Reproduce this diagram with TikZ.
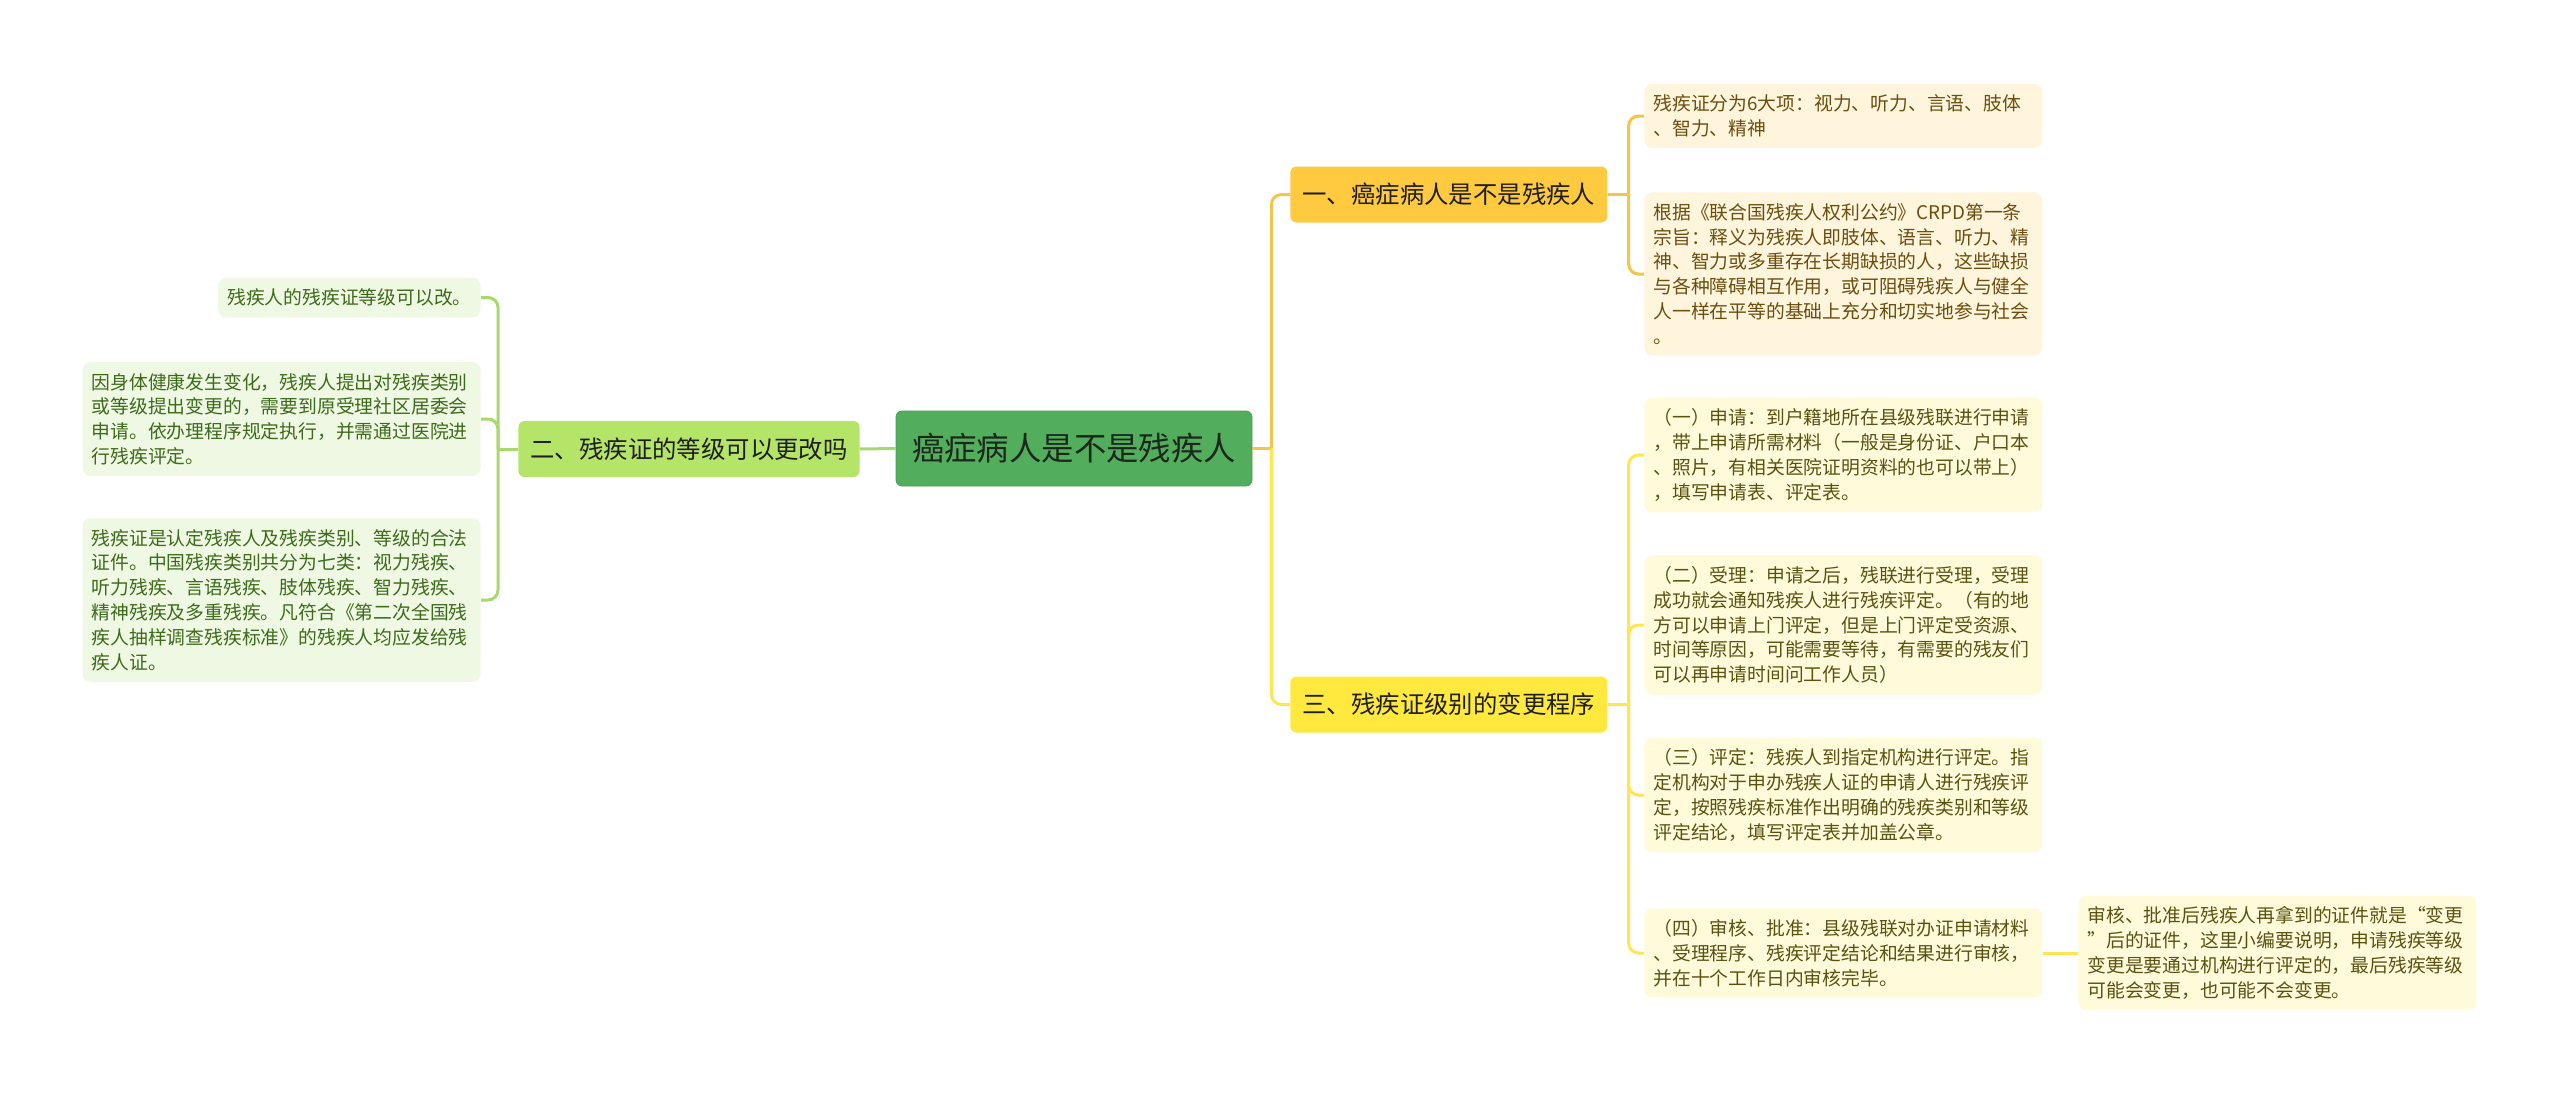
\documentclass[tikz,border=0pt]{standalone}
\usepackage{fontspec}
\setmainfont{Noto Sans CJK SC}
\usepackage{tikz}
\usetikzlibrary{positioning}
\definecolor{rootgreen}{RGB}{82,174,92}
\definecolor{rootedge}{RGB}{70,160,80}
\definecolor{roottext}{RGB}{28,40,28}
\definecolor{twogreen}{RGB}{180,228,104}
\definecolor{oneorange}{RGB}{255,201,64}
\definecolor{threeyellow}{RGB}{255,233,62}
\definecolor{darktext}{RGB}{30,30,30}
\definecolor{glink}{RGB}{168,216,110}
\definecolor{olink}{RGB}{243,197,74}
\definecolor{ylink}{RGB}{255,230,80}
\definecolor{gleaf}{RGB}{238,248,226}
\definecolor{gtext}{RGB}{62,106,28}
\definecolor{oleaf}{RGB}{255,245,220}
\definecolor{otext}{RGB}{106,78,16}
\definecolor{yleaf}{RGB}{255,251,218}
\definecolor{ytext}{RGB}{90,82,18}
\tikzset{
  rootbox/.style={rectangle,rounded corners=3pt,fill=rootgreen,draw=rootedge,text=roottext,inner xsep=8pt,minimum height=37.5pt,font=\fontsize{16.2}{19}\selectfont},
  branch/.style={rectangle,rounded corners=3pt,inner xsep=6pt,minimum height=28pt,text=darktext,font=\fontsize{12.2}{14}\selectfont},
  leaf/.style={rectangle,rounded corners=4pt,align=left,inner xsep=4.5pt,inner ysep=5.5pt,font=\fontsize{9.4}{12.4}\selectfont},
  wideleaf/.style={leaf,text width=190pt},
  link/.style={line width=1.5pt,rounded corners=5pt}
}

\begin{document}
\begin{tikzpicture}[x=0.5pt,y=-0.5pt]
  \useasboundingbox (0,0) rectangle (2560,1093);

  % centre and main branches
  \node[rootbox] (root) at (1074,448.5) {癌症病人是不是残疾人};
  \node[branch,fill=twogreen,anchor=east] (two) at (860,449) {二、残疾证的等级可以更改吗};
  \node[branch,fill=oneorange,anchor=west] (one) at (1290,194.5) {一、癌症病人是不是残疾人};
  \node[branch,fill=threeyellow,anchor=west] (three) at (1290,704.5) {三、残疾证级别的变更程序};

  % leaves of branch one
  \node[wideleaf,fill=oleaf,text=otext,anchor=west] (a1) at (1644,116) {残疾证分为6大项：视力、听力、言语、肢体\\、智力、精神};
  \node[wideleaf,fill=oleaf,text=otext,anchor=west] (a2) at (1644,274) {根据《联合国残疾人权利公约》CRPD第一条\\宗旨：释义为残疾人即肢体、语言、听力、精\\神、智力或多重存在长期缺损的人，这些缺损\\与各种障碍相互作用，或可阻碍残疾人与健全\\人一样在平等的基础上充分和切实地参与社会\\。};

  % leaves of branch three
  \node[wideleaf,fill=yleaf,text=ytext,anchor=west] (c1) at (1644,455) {（一）申请：到户籍地所在县级残联进行申请\\，带上申请所需材料（一般是身份证、户口本\\、照片，有相关医院证明资料的也可以带上）\\，填写申请表、评定表。};
  \node[wideleaf,fill=yleaf,text=ytext,anchor=west] (c2) at (1644,625) {（二）受理：申请之后，残联进行受理，受理\\成功就会通知残疾人进行残疾评定。（有的地\\方可以申请上门评定，但是上门评定受资源、\\时间等原因，可能需要等待，有需要的残友们\\可以再申请时间问工作人员）};
  \node[wideleaf,fill=yleaf,text=ytext,anchor=west] (c3) at (1644,795) {（三）评定：残疾人到指定机构进行评定。指\\定机构对于申办残疾人证的申请人进行残疾评\\定，按照残疾标准作出明确的残疾类别和等级\\评定结论，填写评定表并加盖公章。};
  \node[wideleaf,fill=yleaf,text=ytext,anchor=west] (c4) at (1644,953) {（四）审核、批准：县级残联对办证申请材料\\、受理程序、残疾评定结论和结果进行审核，\\并在十个工作日内审核完毕。};
  \node[wideleaf,fill=yleaf,text=ytext,anchor=west] (d1) at (2078,953) {审核、批准后残疾人再拿到的证件就是“变更\\”后的证件，这里小编要说明，申请残疾等级\\变更是要通过机构进行评定的，最后残疾等级\\可能会变更，也可能不会变更。};

  % leaves of branch two
  \node[leaf,fill=gleaf,text=gtext,anchor=east] (l1) at (481,297.5) {残疾人的残疾证等级可以改。};
  \node[wideleaf,fill=gleaf,text=gtext,anchor=east] (l2) at (481,419) {因身体健康发生变化，残疾人提出对残疾类别\\或等级提出变更的，需要到原受理社区居委会\\申请。依办理程序规定执行，并需通过医院进\\行残疾评定。};
  \node[wideleaf,fill=gleaf,text=gtext,anchor=east] (l3) at (481,600) {残疾证是认定残疾人及残疾类别、等级的合法\\证件。中国残疾类别共分为七类：视力残疾、\\听力残疾、言语残疾、肢体残疾、智力残疾、\\精神残疾及多重残疾。凡符合《第二次全国残\\疾人抽样调查残疾标准》的残疾人均应发给残\\疾人证。};

  % connectors
  \draw[link,draw=glink] (root.west) -- (two.east);
  \draw[link,draw=olink] (root.east) -- ++(19,0);
  \draw[link,draw=olink] (root.east) ++(19,0) |- (one.west);
  \draw[link,draw=ylink] (root.east) ++(19,0) |- (three.west);
  \draw[link,draw=olink] (one.east) -- ++(21,0);
  \foreach \n in {a1,a2}
    \draw[link,draw=olink] (one.east) ++(21,0) |- (\n.west);
  \draw[link,draw=ylink] (three.east) -- ++(21,0);
  \foreach \n in {c1,c2,c3,c4}
    \draw[link,draw=ylink] (three.east) ++(21,0) |- (\n.west);
  \draw[link,draw=ylink] (c4.east) -- (d1.west);
  \draw[link,draw=glink] (two.west) -- ++(-20,0);
  \foreach \n in {l1,l2,l3}
    \draw[link,draw=glink] (two.west) ++(-20,0) |- (\n.east);
\end{tikzpicture}
\end{document}
